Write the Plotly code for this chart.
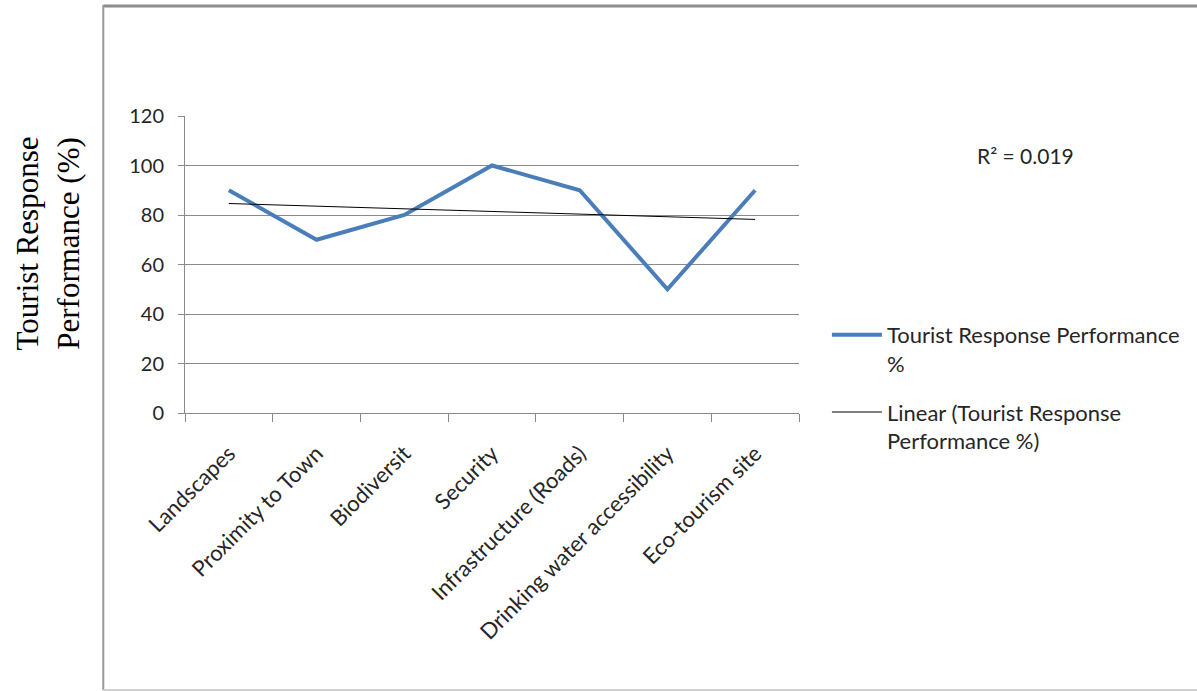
import numpy as np
import plotly.graph_objects as go

categories = ["Landscapes", "Proximity to Town", "Biodiversit", "Security",
              "Infrastructure (Roads)", "Drinking water accessibility", "Eco-tourism site"]
values = [90, 70, 80, 100, 90, 50, 90]
y_ticks = [0, 20, 40, 60, 80, 100, 120]
series_name = "Tourist Response Performance<br>%"
trend_name = "Linear (Tourist Response<br>Performance %)"
r2_label = "R² = 0.019"
y_title = "Tourist Response<br>Performance (%)"

idx = np.arange(1, len(values) + 1)
slope, intercept = np.polyfit(idx, values, 1)
trend = slope * idx + intercept

W, H = 1197, 691
L, R, T, B = 185, 801, 116, 413

def px(x):
    return (x - L) / (R - L)

def py(y):
    return (B - y) / (B - T)

font = "Lato, 'Open Sans', sans-serif"
txt = "#262626"
grid = "#8a8a8a"

fig = go.Figure()
fig.add_trace(go.Scatter(x=categories, y=values, mode="lines", name=series_name,
                         legendgroup="series",
                         line=dict(color="#4a7ebb", width=4)))
fig.add_trace(go.Scatter(x=categories, y=trend, mode="lines", name=trend_name,
                         legendgroup="trend",
                         line=dict(color="#000000", width=1)))

fig.update_layout(
    width=W, height=H,
    margin=dict(l=L, r=W - R, t=T, b=H - B),
    paper_bgcolor="white", plot_bgcolor="white",
    font=dict(family=font, size=20, color=txt),
    showlegend=True,
    legend=dict(x=px(829), y=py(314), xanchor="left", yanchor="top",
                valign="top", tracegroupgap=17, itemwidth=50,
                font=dict(family=font, size=22, color=txt),
                bgcolor="rgba(0,0,0,0)"),
    xaxis=dict(type="category", range=[-0.5, len(categories) - 0.5],
               showline=True, linecolor=grid, linewidth=1,
               ticks="outside", ticklen=8, tickcolor=grid, tickson="boundaries",
               tickangle=-45, showgrid=False, ticklabelstandoff=18,
               tickfont=dict(family=font, size=22, color=txt)),
    yaxis=dict(range=[0, 120], tickvals=y_ticks, showgrid=True, gridcolor=grid,
               gridwidth=1, showline=True, linecolor=grid, linewidth=1,
               ticks="outside", ticklen=6, tickcolor=grid, zeroline=False,
               ticklabelstandoff=10,
               tickfont=dict(family=font, size=20, color=txt)),
)

fig.add_annotation(text=r2_label, xref="paper", yref="paper", x=px(978), y=py(155),
                   xanchor="left", yanchor="middle", showarrow=False,
                   font=dict(family=font, size=21, color=txt))
fig.add_annotation(text=y_title, xref="paper", yref="paper", x=px(47), y=py(243),
                   xanchor="center", yanchor="middle", showarrow=False, textangle=-90,
                   font=dict(family="'Liberation Serif', 'Times New Roman', serif",
                             size=31, color="#000000"))

# document frame
fig.add_shape(type="line", xref="paper", yref="paper", x0=px(103), x1=px(1205),
              y0=py(6), y1=py(6), line=dict(color="#8c8c8c", width=3))
fig.add_shape(type="line", xref="paper", yref="paper", x0=px(103), x1=px(103),
              y0=py(5), y1=py(690), line=dict(color="#9a9a9a", width=2))
fig.add_shape(type="line", xref="paper", yref="paper", x0=px(103), x1=px(1205),
              y0=py(690), y1=py(690), line=dict(color="#d0d0d0", width=2))

fig.write_html("out.html")
